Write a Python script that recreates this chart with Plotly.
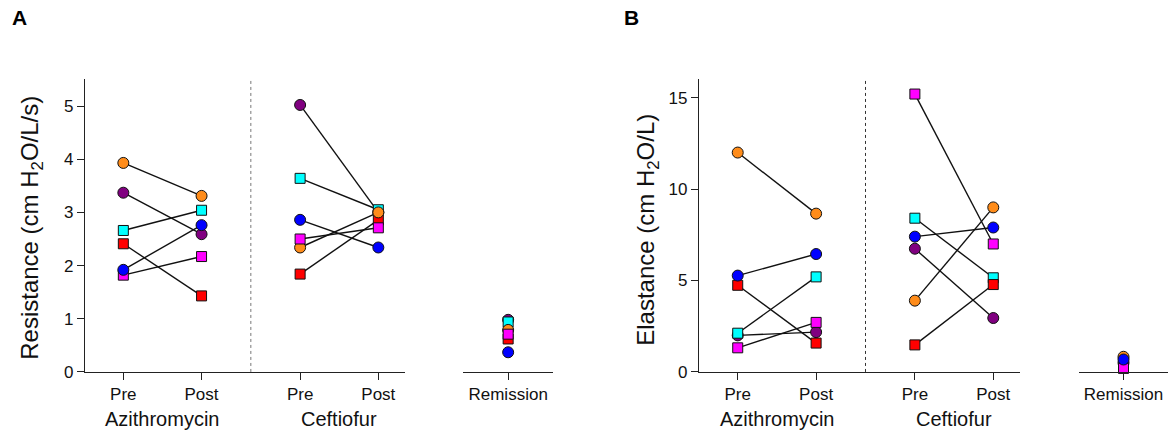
import plotly.graph_objects as go

# ---------------- data ----------------
subjects = ["purple", "cyan", "red", "orange", "magenta", "blue"]
colors = ["#800080", "#00FFFF", "#FF0000", "#FF8C1A", "#FF00FF", "#0000FF"]
symbols = ["circle", "square", "square", "circle", "square", "circle"]

time_labels = ["Pre", "Post", "Pre", "Post"]
groups = ["Azithromycin", "Ceftiofur"]
remission_label = "Remission"

# Resistance (cm H2O/L/s)
res_azi_pre = [3.37, 2.66, 2.41, 3.93, 1.82, 1.92]
res_azi_post = [2.59, 3.04, 1.43, 3.31, 2.17, 2.76]
res_cef_pre = [5.02, 3.64, 1.84, 2.34, 2.50, 2.86]
res_cef_post = [3.00, 3.05, 2.86, 3.00, 2.71, 2.34]
res_rem = [0.98, 0.94, 0.62, 0.79, 0.71, 0.37]
res_ticks = [0, 1, 2, 3, 4, 5]

# Elastance (cm H2O/L)
ela_azi_pre = [2.00, 2.12, 4.74, 12.0, 1.32, 5.27]
ela_azi_post = [2.18, 5.20, 1.58, 8.66, 2.71, 6.45]
ela_cef_pre = [6.74, 8.41, 1.48, 3.90, 15.2, 7.40]
ela_cef_post = [2.95, 5.15, 4.78, 9.00, 7.00, 7.90]
ela_rem = [0.50, 0.22, 0.22, 0.83, 0.20, 0.68]
ela_ticks = [0, 5, 10, 15]

# ---------------- layout helpers ----------------
W, H = 1168, 435
HE = 425.4  # effective vertical extent observed in the rendered page
FONT = "Liberation Sans, Arial, Helvetica, sans-serif"
AX = "#222222"
XPOS = [0, 1, 2.26, 3.26]
DIV = 1.63


def px(x):
    return x / W


def py(y):
    return 1 - y / HE


fig = go.Figure()


def add_panel(xa, ya, xr, yr, pre1, post1, pre2, post2, rem):
    # lines first
    for i in range(len(subjects)):
        fig.add_trace(go.Scatter(
            x=[XPOS[0], XPOS[1], None, XPOS[2], XPOS[3]],
            y=[pre1[i], post1[i], None, pre2[i], post2[i]],
            mode="lines", line=dict(color="#111111", width=1.4),
            xaxis=xa, yaxis=ya, showlegend=False, hoverinfo="skip",
            cliponaxis=False))
    # markers
    for i in range(len(subjects)):
        sz = 11 if symbols[i] == "circle" else 10
        fig.add_trace(go.Scatter(
            x=XPOS, y=[pre1[i], post1[i], pre2[i], post2[i]],
            mode="markers",
            marker=dict(color=colors[i], symbol=symbols[i], size=sz,
                        line=dict(color="#111111", width=1)),
            xaxis=xa, yaxis=ya, showlegend=False, cliponaxis=False))
        fig.add_trace(go.Scatter(
            x=[0], y=[rem[i]], mode="markers",
            marker=dict(color=colors[i], symbol=symbols[i], size=sz,
                        line=dict(color="#111111", width=1)),
            xaxis=xr, yaxis=yr, showlegend=False, cliponaxis=False))


add_panel("x", "y", "x2", "y2", res_azi_pre, res_azi_post, res_cef_pre, res_cef_post, res_rem)
add_panel("x3", "y3", "x4", "y4", ela_azi_pre, ela_azi_post, ela_cef_pre, ela_cef_post, ela_rem)

ydom = [py(372.3), py(79.5)]
common_x = dict(showline=True, linecolor=AX, linewidth=1.3, ticks="outside",
                ticklen=7, tickwidth=1.3, tickcolor=AX, showgrid=False,
                zeroline=False, tickfont=dict(size=17, color="#111111", family=FONT),
                fixedrange=True)
common_y = dict(showline=True, linecolor=AX, linewidth=1.3, ticks="outside",
                ticklen=7, tickwidth=1.3, tickcolor=AX, showgrid=False,
                zeroline=False, tickfont=dict(size=17, color="#111111", family=FONT),
                fixedrange=True)

fig.update_layout(
    width=W, height=H, autosize=False,
    margin=dict(l=0, r=0, t=0, b=0),
    paper_bgcolor="white", plot_bgcolor="white",
    font=dict(family=FONT, color="#111111"),
    hovermode=False,
    xaxis=dict(domain=[px(85), px(405)], range=[-0.490, 3.601], anchor="y",
               tickvals=XPOS, ticktext=time_labels, **common_x),
    yaxis=dict(domain=ydom, range=[0, 5.5], anchor="x", tickvals=res_ticks, **common_y),
    xaxis2=dict(domain=[px(463.3), px(553)], range=[-1, 1], anchor="y2",
                tickvals=[0], ticktext=[remission_label], **common_x),
    yaxis2=dict(domain=ydom, range=[0, 5.5], anchor="x2", visible=False),
    xaxis3=dict(domain=[px(699), px(1020)], range=[-0.494, 3.601], anchor="y3",
                tickvals=XPOS, ticktext=time_labels, **common_x),
    yaxis3=dict(domain=ydom, range=[0, 16], anchor="x3", tickvals=ela_ticks, **common_y),
    xaxis4=dict(domain=[px(1079), px(1168)], range=[-1, 1], anchor="y4",
                tickvals=[0], ticktext=[remission_label], **common_x),
    yaxis4=dict(domain=ydom, range=[0, 16], anchor="x4", visible=False),
)

# dotted dividers
for xr, yr, c in [("x", "y", "#777777"), ("x3", "y3", "#333333")]:
    fig.add_shape(type="line", xref=xr, yref=yr + " domain", x0=DIV, x1=DIV, y0=0, y1=1,
                  line=dict(color=c, width=1, dash="dot"))

ann = []
# group labels
for xr in ["x", "x3"]:
    for g, xc in zip(groups, [0.5, 2.76]):
        ann.append(dict(text=g, x=xc, xref=xr, y=py(419), yref="paper",
                        showarrow=False, xanchor="center", yanchor="middle",
                        font=dict(size=20, family=FONT, color="#111111")))
# y titles
ann.append(dict(text="Resistance (cm H<sub>2</sub>O/L/s)", x=px(32), y=py(228),
                xref="paper", yref="paper", textangle=-90, showarrow=False,
                xanchor="center", yanchor="middle",
                font=dict(size=24, family=FONT, color="#111111")))
ann.append(dict(text="Elastance (cm H<sub>2</sub>O/L)", x=px(648), y=py(230),
                xref="paper", yref="paper", textangle=-90, showarrow=False,
                xanchor="center", yanchor="middle",
                font=dict(size=24, family=FONT, color="#111111")))
# panel letters
for letter, xl in [("A", 10), ("B", 622)]:
    ann.append(dict(text="<b>" + letter + "</b>", x=px(xl), y=py(18), xref="paper",
                    yref="paper", showarrow=False, xanchor="left", yanchor="middle",
                    font=dict(size=21, family=FONT, color="#000000")))
fig.update_layout(annotations=ann)

fig.write_html("out.html")
